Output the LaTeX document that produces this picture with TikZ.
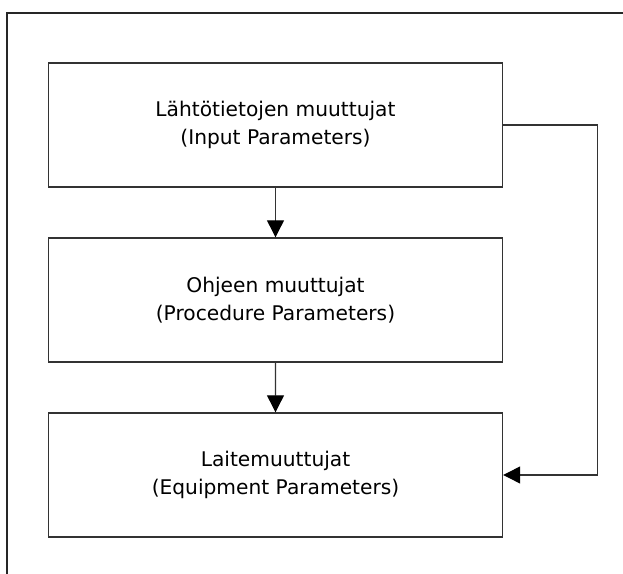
\documentclass[tikz,border=0pt]{standalone}
\usepackage{fontspec}
\setmainfont{DejaVu Sans}
\usetikzlibrary{arrows.meta}

\begin{document}
\begin{tikzpicture}[x=0.5pt, y=0.5pt,
		parambox/.style={rectangle, draw=black!80, line width=0.7pt, minimum width=227pt, minimum height=62pt, inner sep=0pt, align=center, font=\fontsize{10.1}{14}\selectfont},
		flowarrow/.style={draw=black!80, line width=0.6pt, -{Triangle[length=8.5pt, width=8.5pt, color=black]}},
		level distance=87.5pt, grow=down,
		edge from parent/.style={flowarrow}]
		\useasboundingbox (0,0) rectangle (623,574);
		\draw[black!85, line width=1.1pt] (7,-10) -- (7,561) -- (640,561);
		\node[parambox] (input) at (275.5,449) {Lähtötietojen muuttujat\\(Input Parameters)}
		child { node[parambox] (proc) {Ohjeen muuttujat\\(Procedure Parameters)}
				child { node[parambox] (equip) {Laitemuuttujat\\(Equipment Parameters)}}
			};
		\draw[flowarrow] (input.east) -- ++(94,0) |- (equip.east);
	\end{tikzpicture}
\end{document}
